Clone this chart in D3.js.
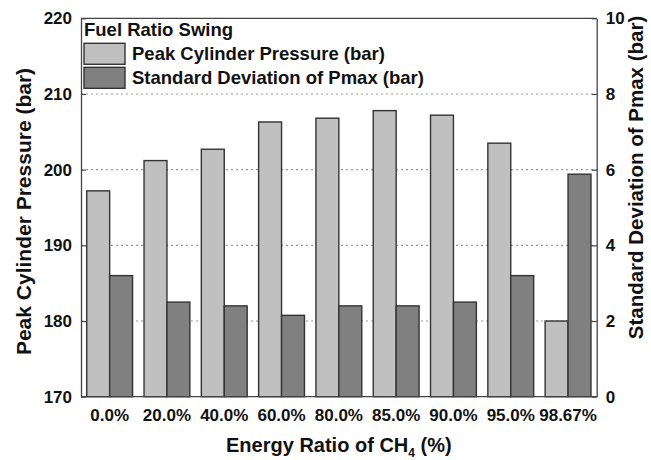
<!DOCTYPE html>
<html>
<head>
<meta charset="utf-8">
<script src="https://cdn.jsdelivr.net/npm/d3@7"></script>
<style>
  html, body { margin: 0; padding: 0; background: #fff; }
  svg { display: block; font-family: "Liberation Sans", Arial, sans-serif; font-weight: bold; }
</style>
</head>
<body>
<svg id="chart" width="651" height="460"></svg>
<script>
// Energy ratio of CH4 for each operating point
const categories = ["0.0%", "20.0%", "40.0%", "60.0%", "80.0%", "85.0%", "90.0%", "95.0%", "98.67%"];
// Peak cylinder pressure (bar), left axis
const peakPressure = [197.2, 201.2, 202.7, 206.3, 206.8, 207.8, 207.2, 203.5, 180.0];
// Standard deviation of Pmax (bar), right axis
const pmaxStd = [3.2, 2.5, 2.4, 2.15, 2.4, 2.4, 2.5, 3.2, 5.88];
const leftTicks = [170, 180, 190, 200, 210, 220];
const rightTicks = [0, 2, 4, 6, 8, 10];
const seriesNames = ["Peak Cylinder Pressure (bar)", "Standard Deviation of Pmax (bar)"];
const legendTitle = "Fuel Ratio Swing";

const svg = d3.select("#chart");
const m = { left: 81, right: 54.3, top: 18.3, bottom: 63.3 };
const W = 651, H = 460;
const x0 = m.left, x1 = W - m.right, y0 = H - m.bottom, y1 = m.top;

const x = d3.scaleBand().domain(categories).range([x0, x1]).paddingInner(0.2).paddingOuter(0.1);
const xs = d3.scaleBand().domain([0, 1]).range([0, x.bandwidth()]);
const yL = d3.scaleLinear().domain([170, 220]).range([y0, y1]);
const yR = d3.scaleLinear().domain([0, 10]).range([y0, y1]);

const fills = ["#c0c0c0", "#808080"];
const ink = "#111";

// dotted horizontal gridlines
svg.append("g").selectAll("line")
  .data(leftTicks.filter(t => t > 170 && t < 220))
  .join("line")
  .attr("x1", x0).attr("x2", x1)
  .attr("y1", d => yL(d)).attr("y2", d => yL(d))
  .attr("stroke", "#999").attr("stroke-width", 1.2)
  .attr("stroke-dasharray", "2,3");

// bars
const groups = svg.append("g").selectAll("g")
  .data(categories).join("g")
  .attr("transform", d => `translate(${x(d)},0)`);

groups.append("rect")
  .attr("x", xs(0)).attr("width", xs.bandwidth())
  .attr("y", (d, i) => yL(peakPressure[i]))
  .attr("height", (d, i) => yL(170) - yL(peakPressure[i]))
  .attr("fill", fills[0]).attr("stroke", "#333").attr("stroke-width", 1.4);

groups.append("rect")
  .attr("x", xs(1)).attr("width", xs.bandwidth())
  .attr("y", (d, i) => yR(pmaxStd[i]))
  .attr("height", (d, i) => yR(0) - yR(pmaxStd[i]))
  .attr("fill", fills[1]).attr("stroke", "#333").attr("stroke-width", 1.4);

// frame: top and bottom edges
svg.append("line").attr("x1", x0).attr("x2", x1).attr("y1", y1).attr("y2", y1)
  .attr("stroke", "#444").attr("stroke-width", 1.3);
svg.append("line").attr("x1", x0).attr("x2", x1).attr("y1", y0).attr("y2", y0)
  .attr("stroke", "#444").attr("stroke-width", 1.3);

// left axis
const axL = svg.append("g").attr("transform", `translate(${x0},0)`)
  .call(d3.axisLeft(yL).tickValues(leftTicks).tickSizeInner(-5).tickSizeOuter(0).tickPadding(9));
axL.select(".domain").attr("stroke", "#444").attr("stroke-width", 1.3);
axL.selectAll(".tick line").attr("stroke", "#444").attr("stroke-width", 1.2);
axL.selectAll(".tick text").attr("fill", ink).style("font-size", "17px").style("font-weight", "bold");

// right axis
const axR = svg.append("g").attr("transform", `translate(${x1},0)`)
  .call(d3.axisRight(yR).tickValues(rightTicks).tickSizeInner(-5).tickSizeOuter(0).tickPadding(9));
axR.select(".domain").attr("stroke", "#444").attr("stroke-width", 1.3);
axR.selectAll(".tick line").attr("stroke", "#444").attr("stroke-width", 1.2);
axR.selectAll(".tick text").attr("fill", ink).style("font-size", "17px").style("font-weight", "bold");

// category labels
const axB = svg.append("g").attr("transform", `translate(0,${y0})`)
  .call(d3.axisBottom(x).tickSize(0).tickPadding(12));
axB.select(".domain").remove();
axB.selectAll(".tick text").attr("fill", ink).style("font-size", "17px").style("font-weight", "bold");

// axis titles
const xt = svg.append("text").attr("x", (x0 + x1) / 2).attr("y", 452)
  .attr("text-anchor", "middle").attr("fill", ink).style("font-size", "20px");
xt.append("tspan").text("Energy Ratio of CH");
xt.append("tspan").attr("dy", 5).style("font-size", "12px").text("4");
xt.append("tspan").attr("dy", -5).text(" (%)");

svg.append("text")
  .attr("transform", `translate(31,${(y0 + y1) / 2 + 4}) rotate(-90)`)
  .attr("text-anchor", "middle").attr("fill", ink).style("font-size", "21px")
  .text("Peak Cylinder Pressure (bar)");

svg.append("text")
  .attr("transform", `translate(643,${(y0 + y1) / 2 - 30}) rotate(-90)`)
  .attr("text-anchor", "middle").attr("fill", ink).style("font-size", "20.5px")
  .text("Standard Deviation of Pmax (bar)");

// legend
const lg = svg.append("g").attr("transform", `translate(${x0 + 3},${y1})`);
lg.append("text").attr("x", 0).attr("y", 18).attr("fill", ink).style("font-size", "18.5px").text(legendTitle);
seriesNames.forEach((name, i) => {
  lg.append("rect").attr("x", 0).attr("y", 25 + i * 24).attr("width", 41).attr("height", 21)
    .attr("fill", fills[i]).attr("stroke", "#333").attr("stroke-width", 1.4);
  lg.append("text").attr("x", 48).attr("y", 42 + i * 24).attr("fill", ink)
    .style("font-size", "18.5px").text(name);
});
</script>
</body>
</html>
